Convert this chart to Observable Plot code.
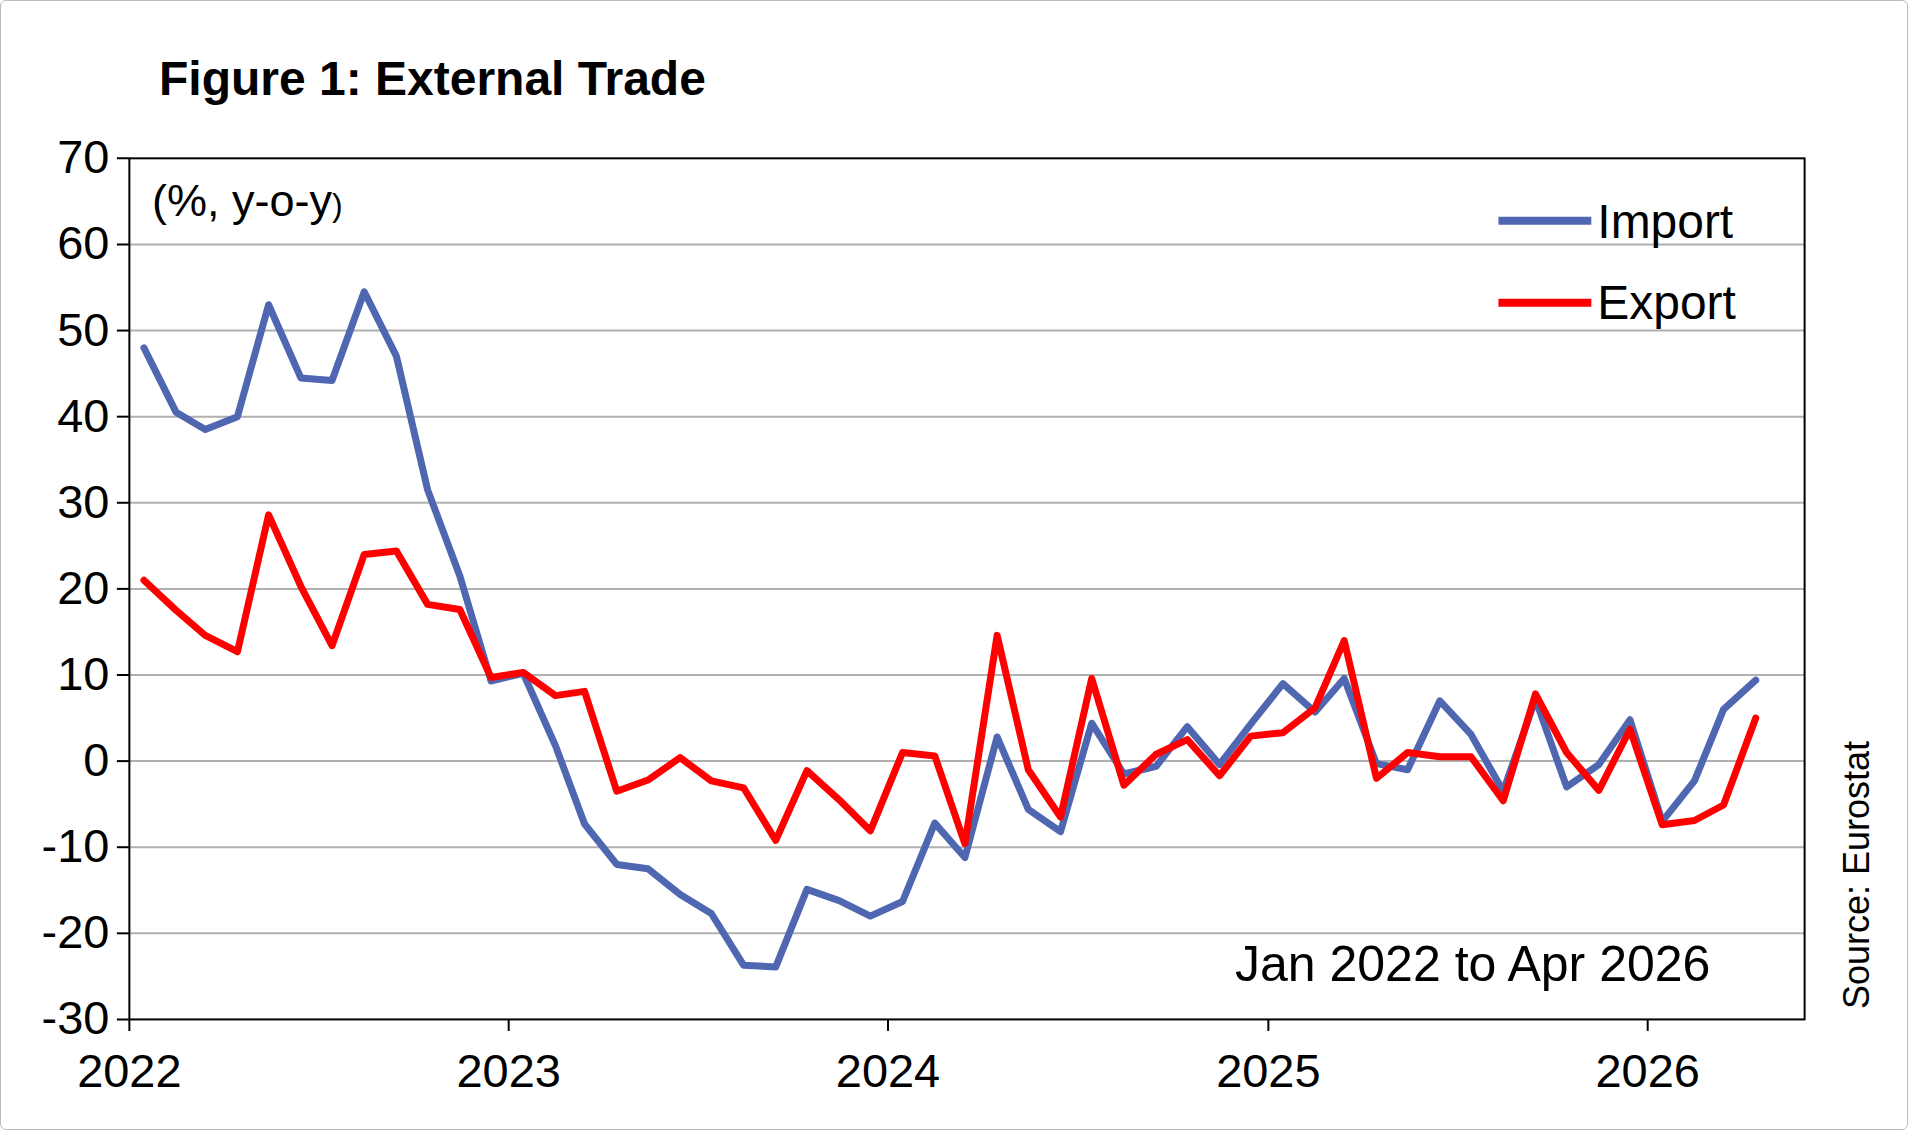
<!DOCTYPE html>
<html><head><meta charset="utf-8">
<script src="https://cdn.jsdelivr.net/npm/d3@7"></script>
<script src="https://cdn.jsdelivr.net/npm/@observablehq/plot@0.6"></script>
<style>
body{margin:0;background:#fff;font-family:"Liberation Sans",Arial,sans-serif;}
#wrap{position:relative;width:1906px;height:1128px;border:1px solid #bbb;border-radius:6px;overflow:hidden}
.t{position:absolute;white-space:nowrap;color:#000}
</style></head><body>
<div id="wrap">
<div class="t" style="left:158px;top:50px;font-size:48px;font-weight:bold">Figure 1: External Trade</div>
<div class="t" style="left:151px;top:174px;font-size:45px">(%, y-o-y<span style="font-size:32px">)</span></div>
<div id="chart" style="position:absolute;left:0;top:0"></div>
<div class="t" style="left:1234px;top:934px;font-size:50px">Jan 2022 to Apr 2026</div>
<div class="t" style="left:1856px;top:874px;font-size:36px;transform:translate(-50%,-50%) rotate(-90deg)">Source: Eurostat</div>
</div>
<script>
const years = [2022, 2023, 2024, 2025, 2026];
const importVals = [48,40.5,38.5,40,53,44.5,44.2,54.5,47,31.5,21.5,9.3,
10.2,1.8,-7.3,-12,-12.5,-15.5,-17.7,-23.7,-23.9,-14.9,-16.2,-18,
-16.3,-7.2,-11.2,2.8,-5.6,-8.2,4.4,-1.5,-0.6,4,-0.4,4.3,
9,5.7,9.6,-0.3,-1,7,3.1,-3.5,7.2,-3,-0.4,4.8,
-7,-2.3,6,9.4];
const exportVals = [21,17.5,14.6,12.7,28.6,20.3,13.4,24,24.4,18.2,17.6,9.7,
10.3,7.6,8.1,-3.5,-2.2,0.4,-2.3,-3.1,-9.2,-1.1,-4.5,-8.1,
1,0.6,-9.6,14.6,-1,-6.5,9.6,-2.8,0.8,2.5,-1.7,2.9,
3.3,6.2,14,-2,1,0.5,0.5,-4.6,7.8,1,-3.4,3.7,
-7.4,-6.9,-5.1,5];
const seriesNames = ["Import","Export"];
const colors = ["#4f67b1","#ff0000"];
const yTicks = [-30,-20,-10,0,10,20,30,40,50,60,70];

const rows = [];
importVals.forEach((v,i)=>rows.push({s:"Import",d:new Date(2022, i, 15),v}));
exportVals.forEach((v,i)=>rows.push({s:"Export",d:new Date(2022, i, 15),v}));

const W=1908,H=1130;
const mL=128,mR=103,mT=157,mB=111;
const xt = years.map(y=>new Date(y,0,1));
const chart = Plot.plot({
  width:W,height:H,marginLeft:mL,marginRight:mR,marginTop:mT,marginBottom:mB,
  style:{fontFamily:"Liberation Sans, Arial, sans-serif",color:"#000",background:"transparent"},
  x:{type:"time",domain:[new Date(2022,0,1),new Date(2026,5,1)],label:null},
  y:{domain:[-30,70],label:null},
  marks:[
    Plot.gridY(yTicks.filter(t=>t>-30&&t<70),{stroke:"#b0b0b0",strokeOpacity:1,strokeWidth:2}),
    Plot.frame({stroke:"#000",strokeWidth:2}),
    Plot.axisX({ticks:xt,tickFormat:d3.timeFormat("%Y"),tickSize:12,tickPadding:22,strokeWidth:2,fontSize:47,label:null}),
    Plot.axisY({ticks:yTicks,tickFormat:d=>String(d),tickSize:12,tickPadding:8,strokeWidth:2,fontSize:47,label:null}),
    Plot.line(rows.filter(r=>r.s==="Import"),{x:"d",y:"v",stroke:colors[0],strokeWidth:7}),
    Plot.line(rows.filter(r=>r.s==="Export"),{x:"d",y:"v",stroke:colors[1],strokeWidth:7}),
  ]
});
document.getElementById("chart").appendChild(chart);
const svg = d3.select(chart);
const leg = [{n:"Import",y:220},{n:"Export",y:302}];
leg.forEach((l,i)=>{
  svg.append("line").attr("x1",1499).attr("x2",1592).attr("y1",l.y).attr("y2",l.y).attr("stroke",colors[i]).attr("stroke-width",8);
  svg.append("text").attr("x",1598).attr("y",l.y).attr("dy","0.35em").attr("text-anchor","start").attr("font-size",48).text(l.n);
});
</script>
</body></html>
